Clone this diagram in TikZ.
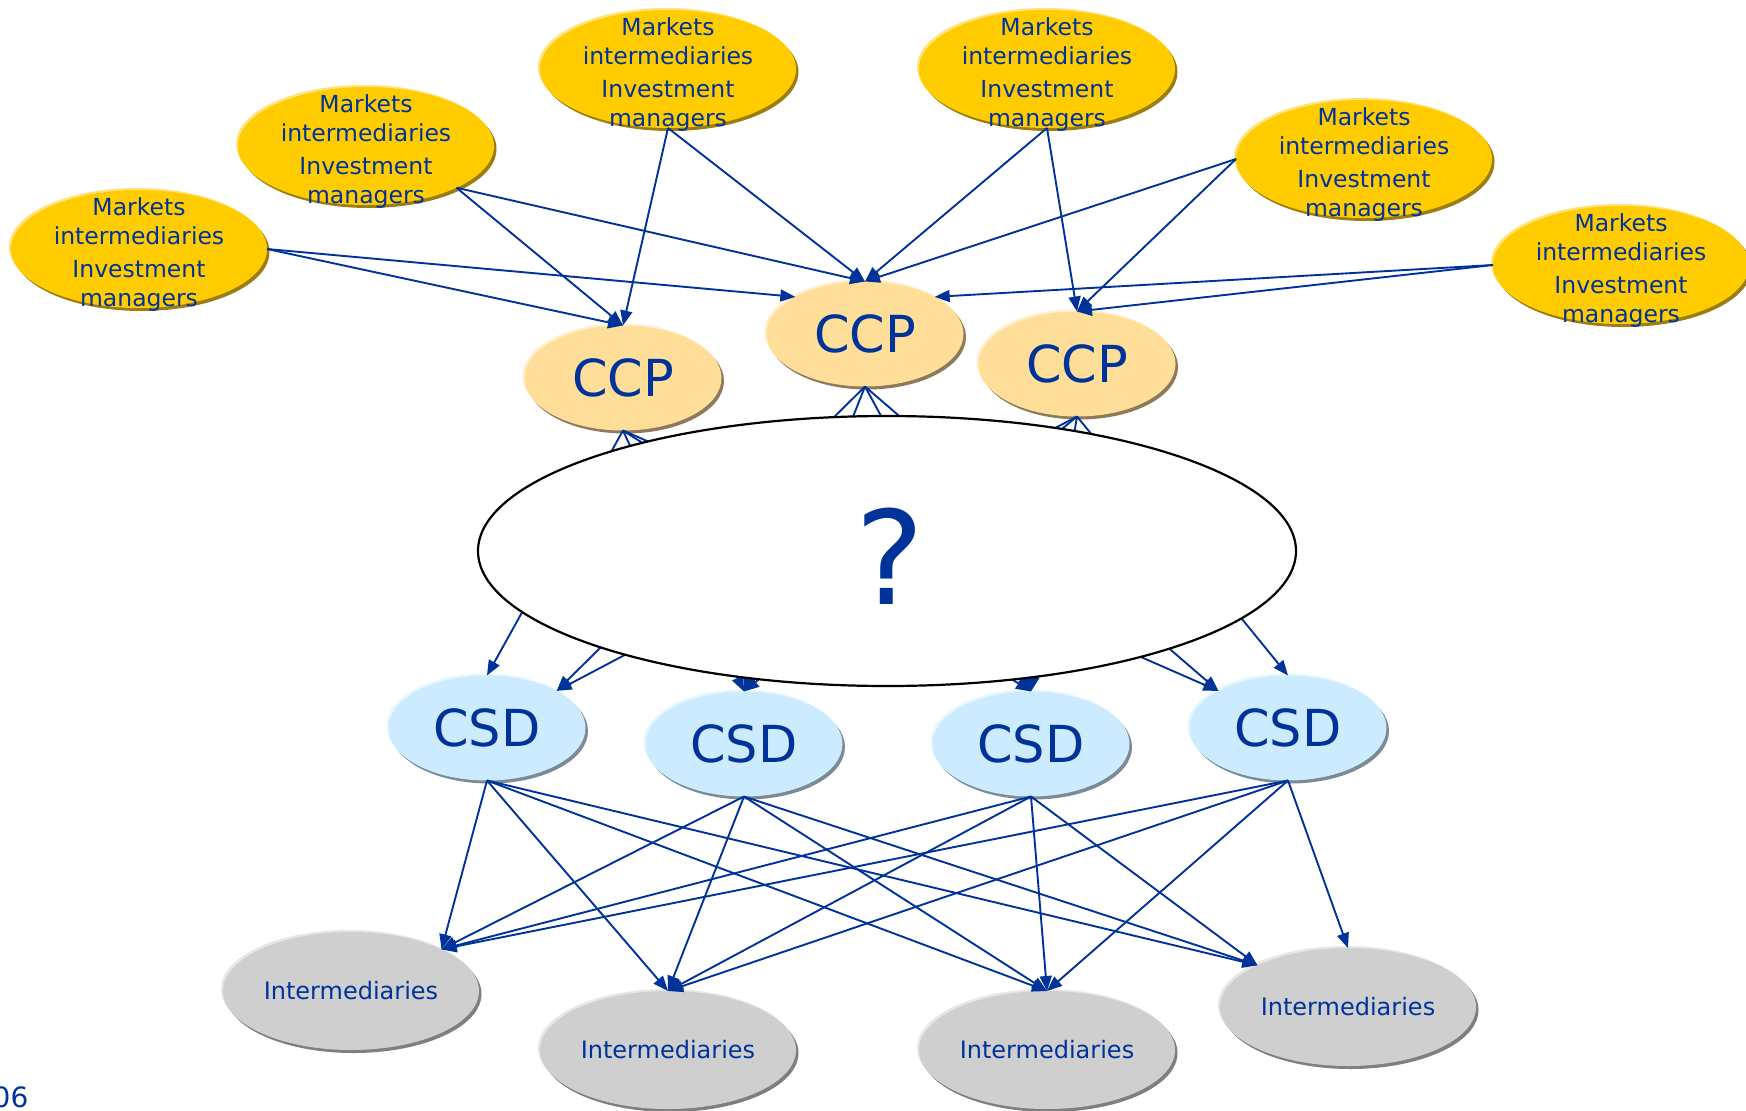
\documentclass[tikz,border=0pt]{standalone}
\usepackage{fontspec}
\setmainfont{DejaVu Sans}
\usetikzlibrary{shapes.geometric,shadows,arrows.meta}

\definecolor{txtblue}{HTML}{003399}
\definecolor{yelfill}{HTML}{FFCC00}
\definecolor{yelshade}{HTML}{9C7D12}
\definecolor{yellight}{HTML}{FFE27A}
\definecolor{ccpfill}{HTML}{FFDE9A}
\definecolor{ccpshade}{HTML}{8E7A58}
\definecolor{ccplight}{HTML}{FFEFCC}
\definecolor{csdfill}{HTML}{CCEBFF}
\definecolor{csdshade}{HTML}{7B8A94}
\definecolor{csdlight}{HTML}{E8F6FF}
\definecolor{gryfill}{HTML}{CFCFCF}
\definecolor{gryshade}{HTML}{7F7F7F}
\definecolor{grylight}{HTML}{E6E6E6}

\tikzset{
  bubble/.style n args={3}{ellipse, inner sep=0pt, outer sep=0pt, fill=#1,
    general shadow={fill=#2, shadow xshift=2.5pt, shadow yshift=-3pt},
    general shadow={fill=#3, shadow xshift=-2pt, shadow yshift=2pt}},
  market/.style={bubble={yelfill}{yelshade}{yellight},
    minimum width=256pt, minimum height=118pt},
  mtext/.style={text=txtblue, align=center, inner sep=0pt, yshift=-5.6pt,
    font=\fontsize{23.5}{28.5}\selectfont},
  ccp/.style={bubble={ccpfill}{ccpshade}{ccplight},
    minimum width=197pt, minimum height=105pt,
    text=txtblue, font=\fontsize{51}{60}\selectfont},
  csd/.style={bubble={csdfill}{csdshade}{csdlight},
    minimum width=197pt, minimum height=105pt,
    text=txtblue, font=\fontsize{51}{60}\selectfont},
  inter/.style={bubble={gryfill}{gryshade}{grylight},
    minimum width=256pt, minimum height=118pt,
    text=txtblue, font=\fontsize{24}{28}\selectfont},
  link/.style={draw=txtblue, line width=1.9pt,
    -{Triangle[length=15pt,width=12pt]}},
  hub/.style={ellipse, draw=black, line width=2.2pt, fill=white,
    minimum width=818pt, minimum height=270pt, inner sep=0pt, outer sep=0pt},
}

\begin{document}
\begin{tikzpicture}[x=1pt, y=-1pt]
  \useasboundingbox (0,0) rectangle (1746,1111);
  \fill[white] (0,0) rectangle (1746,1111);
  \clip (0,0) rectangle (1746,1111);

  % market participants
  \foreach \n/\x/\y in {Y1/139/249, Y2/366/146, Y3/668/69,
                        Y4/1047/69, Y5/1364/159, Y6/1621/265} {
    \node[market] (\n) at (\x,\y) {};
    \node[mtext] (\n t) at (\n) {Markets\\intermediaries\\[5pt]Investment\\managers};
  }

  % central counterparties
  \node[ccp] (C1) at (623,378) {CCP};
  \node[ccp] (C2) at (865,334) {CCP};
  \node[ccp] (C3) at (1077,364) {CCP};

  % central securities depositories
  \node[csd] (D1) at (487,728) {CSD};
  \node[csd] (D2) at (744,744) {CSD};
  \node[csd] (D3) at (1031,744) {CSD};
  \node[csd] (D4) at (1288,728) {CSD};

  % intermediaries
  \node[inter] (G1) at (351,991) {Intermediaries};
  \node[inter] (G2) at (668,1050) {Intermediaries};
  \node[inter] (G3) at (1047,1050) {Intermediaries};
  \node[inter] (G4) at (1348,1007) {Intermediaries};

  % participants to CCPs
  \foreach \s/\t in {Y1.east/C1.north, Y1.east/C2.north west,
                     Y2.south east/C1.north, Y2.south east/C2.north,
                     Y3.south/C1.north, Y3.south/C2.north,
                     Y4.south/C2.north, Y4.south/C3.north,
                     Y5.west/C2.north, Y5.west/C3.north,
                     Y6.west/C2.north east, Y6.west/C3.north}
    \draw[link] (\s) -- (\t);

  % CCPs to CSDs
  \foreach \s/\t in {C1.south/D1.north, C1.south/D2.north,
                     C1.south/D3.north, C1.south/D4.north west,
                     C2.south/D1.north east, C2.south/D2.north,
                     C2.south/D3.north, C2.south/D4.north west,
                     C3.south/D1.north east, C3.south/D2.north,
                     C3.south/D3.north, C3.south/D4.north}
    \draw[link] (\s) -- (\t);

  % CSDs to intermediaries
  \foreach \s/\t in {D1.south/G1.north east, D1.south/G2.north,
                     D1.south/G3.north, D1.south/G4.north west,
                     D2.south/G1.north east, D2.south/G2.north,
                     D2.south/G3.north, D2.south/G4.north west,
                     D3.south/G1.north east, D3.south/G2.north,
                     D3.south/G3.north, D3.south/G4.north west,
                     D4.south/G1.north east, D4.south/G2.north,
                     D4.south/G3.north, D4.south/G4.north}
    \draw[link] (\s) -- (\t);

  % the open question in the middle
  \node[hub] (H) at (887,551) {};
  \node[text=txtblue, font=\fontsize{130}{150}\selectfont, inner sep=0pt] (Q) at (890,556) {?};

  % page number
  \node[text=txtblue, font=\fontsize{28}{32}\selectfont, inner sep=0pt, anchor=base west] (P) at (-7.5,1107) {06};
\end{tikzpicture}
\end{document}
